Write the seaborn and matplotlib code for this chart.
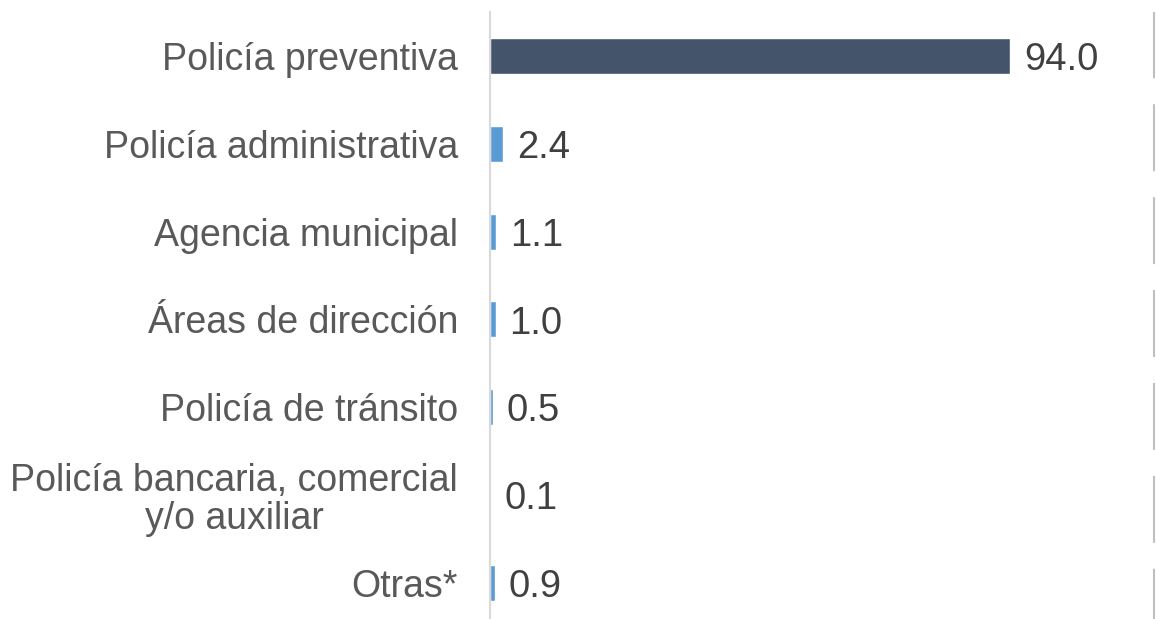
import matplotlib
matplotlib.use("Agg")
import matplotlib.pyplot as plt
import pandas as pd
import seaborn as sns

categorias = [
    "Policía preventiva",
    "Policía administrativa",
    "Agencia municipal",
    "Áreas de dirección",
    "Policía de tránsito",
    "Policía bancaria, comercial\ny/o auxiliar",
    "Otras*",
]
porcentajes = [94.0, 2.4, 1.1, 1.0, 0.5, 0.1, 0.9]
colores = ["#44546A", "#5B9BD5", "#5B9BD5", "#5B9BD5", "#5B9BD5", "#5B9BD5", "#5B9BD5"]

sns.set_style("white")
plt.rcParams["font.family"] = ["Liberation Sans", "DejaVu Sans"]
plt.rcParams["lines.scale_dashes"] = False

datos = pd.DataFrame({"categoria": categorias, "porcentaje": porcentajes})

fig = plt.figure(figsize=(11.56, 6.19), dpi=100)
ax = fig.add_axes([490 / 1156, 0.0, 665 / 1156, 1 - 12 / 619])

sns.barplot(
    data=datos,
    x="porcentaje",
    y="categoria",
    hue="categoria",
    palette=colores,
    saturation=1,
    legend=False,
    width=0.41,
    orient="h",
    ax=ax,
)

ax.set_xlim(0, 120.2)
ax.set_ylim(6.41, -0.50)
ax.set_xlabel("")
ax.set_ylabel("")
ax.set_xticks([])

for s in ["top", "right", "bottom"]:
    ax.spines[s].set_visible(False)
ax.spines["left"].set_color("#D9D9D9")
ax.spines["left"].set_linewidth(1.5)

ax.tick_params(axis="y", length=0, pad=23, labelsize=27, labelcolor="#595959")
for lbl in ax.get_yticklabels():
    lbl.set_horizontalalignment("right")
    lbl.set_multialignment("center")
    lbl.set_linespacing(1.05)

for cont in ax.containers:
    anns = ax.bar_label(cont, fmt="%.1f", padding=10, fontsize=27.5, color="#404040")
    for a in anns:
        a.xyann = (10, -3)

# linea punteada a la derecha
ax.plot(
    [119.95, 119.95], [1, 0],
    transform=ax.get_xaxis_transform(),
    color="#BFBFBF",
    linewidth=1.5,
    linestyle=(0.5, (48.2, 18.7)),
    clip_on=False,
)

fig.savefig("out.png", dpi=100)
